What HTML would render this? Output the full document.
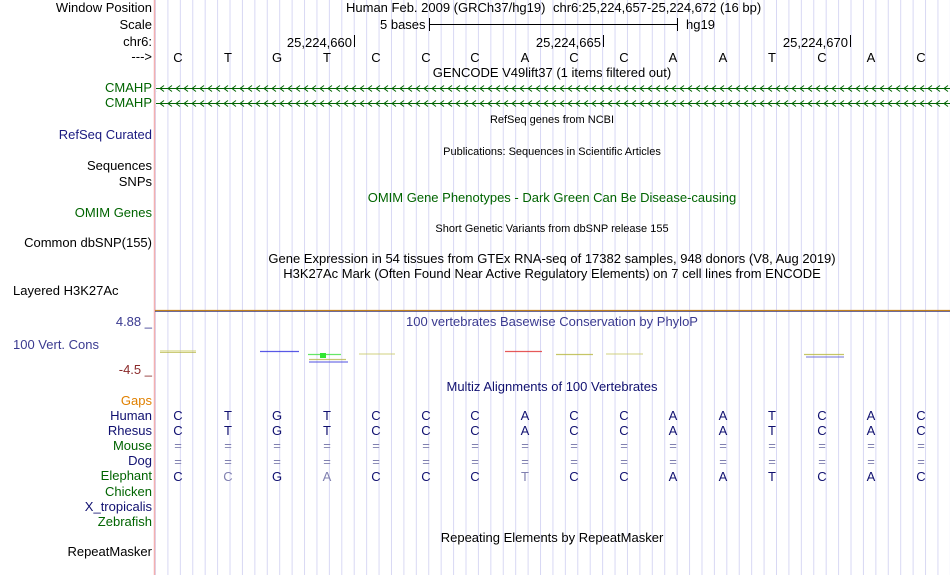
<!DOCTYPE html>
<html><head><meta charset="utf-8"><style>
html,body{margin:0;padding:0;background:#fff;}
svg{display:block;font-family:"Liberation Sans",sans-serif;}
</style></head><body>
<svg width="950" height="575" viewBox="0 0 950 575" xmlns="http://www.w3.org/2000/svg">
<defs>
<pattern id="grid" x="155" y="0" width="12.42" height="575" patternUnits="userSpaceOnUse">
<line x1="0.5" y1="0" x2="0.5" y2="575" stroke="#d8d8f4" stroke-width="1"/>
</pattern>
<pattern id="chev" x="158" y="84" width="8" height="15" patternUnits="userSpaceOnUse">
<polyline points="6,1.5 2,4.5 6,7.5" fill="none" stroke="#006400" stroke-width="1"/>
</pattern>
</defs>
<rect x="155" y="0" width="795" height="575" fill="url(#grid)"/>
<line x1="154.5" y1="0" x2="154.5" y2="575" stroke="#f4b0b0" stroke-width="1.5"/>

<g font-size="13" text-anchor="end" fill="#000">
<text x="152" y="12">Window Position</text>
<text x="152" y="29">Scale</text>
<text x="152" y="46">chr6:</text>
<text x="152" y="61">---&gt;</text>
<text x="152" y="92" fill="#006400">CMAHP</text>
<text x="152" y="107" fill="#006400">CMAHP</text>
<text x="152" y="139" fill="#1a1a80">RefSeq Curated</text>
<text x="152" y="170">Sequences</text>
<text x="152" y="186">SNPs</text>
<text x="152" y="217" fill="#006400">OMIM Genes</text>
<text x="152" y="247">Common dbSNP(155)</text>
<text x="152" y="326" fill="#3a3a90">4.88 _</text>
<text x="152" y="374" fill="#8b2a2a">-4.5 _</text>
<text x="152" y="405" fill="#e08000">Gaps</text>
<text x="152" y="420" fill="#101070">Human</text>
<text x="152" y="435" fill="#101070">Rhesus</text>
<text x="152" y="450" fill="#006400">Mouse</text>
<text x="152" y="465" fill="#101070">Dog</text>
<text x="152" y="480" fill="#006400">Elephant</text>
<text x="152" y="496" fill="#006400">Chicken</text>
<text x="152" y="511" fill="#101070">X_tropicalis</text>
<text x="152" y="526" fill="#006400">Zebrafish</text>
<text x="152" y="556">RepeatMasker</text>
</g>
<text x="13" y="295" font-size="13">Layered H3K27Ac</text>
<text x="13" y="349" font-size="13" fill="#3a3a90">100 Vert. Cons</text>

<g font-size="13">
<text x="346" y="12">Human Feb. 2009 (GRCh37/hg19)</text>
<text x="553" y="12">chr6:25,224,657-25,224,672 (16 bp)</text>
<text x="380" y="29">5 bases</text>
<line x1="429" y1="24.5" x2="677" y2="24.5" stroke="#000"/>
<line x1="429.5" y1="18" x2="429.5" y2="31" stroke="#000"/>
<line x1="677.5" y1="18" x2="677.5" y2="31" stroke="#000"/>
<text x="686" y="29">hg19</text>
<text x="352" y="47" text-anchor="end">25,224,660</text>
<line x1="354.5" y1="35" x2="354.5" y2="47" stroke="#000"/>
<text x="601" y="47" text-anchor="end">25,224,665</text>
<line x1="603.5" y1="35" x2="603.5" y2="47" stroke="#000"/>
<text x="848" y="47" text-anchor="end">25,224,670</text>
<line x1="850.5" y1="35" x2="850.5" y2="47" stroke="#000"/>
</g>
<g font-size="13" text-anchor="middle">
<text x="178" y="62">C</text><text x="228" y="62">T</text><text x="277" y="62">G</text><text x="327" y="62">T</text>
<text x="376" y="62">C</text><text x="426" y="62">C</text><text x="475" y="62">C</text><text x="525" y="62">A</text>
<text x="574" y="62">C</text><text x="624" y="62">C</text><text x="673" y="62">A</text><text x="723" y="62">A</text>
<text x="772" y="62">T</text><text x="822" y="62">C</text><text x="871" y="62">A</text><text x="921" y="62">C</text>
<text x="552" y="77">GENCODE V49lift37 (1 items filtered out)</text>
</g>
<line x1="156" y1="88.5" x2="950" y2="88.5" stroke="#006400"/>
<rect x="156" y="84" width="794" height="10" fill="url(#chev)"/>
<line x1="156" y1="103.5" x2="950" y2="103.5" stroke="#006400"/>
<rect x="156" y="99" width="794" height="10" fill="url(#chev)"/>
<g text-anchor="middle">
<text x="552" y="123" font-size="11">RefSeq genes from NCBI</text>
<text x="552" y="155" font-size="11">Publications: Sequences in Scientific Articles</text>
<text x="552" y="202" font-size="13" fill="#006400">OMIM Gene Phenotypes - Dark Green Can Be Disease-causing</text>
<text x="552" y="232" font-size="11">Short Genetic Variants from dbSNP release 155</text>
<text x="552" y="263" font-size="13">Gene Expression in 54 tissues from GTEx RNA-seq of 17382 samples, 948 donors (V8, Aug 2019)</text>
<text x="552" y="278" font-size="13">H3K27Ac Mark (Often Found Near Active Regulatory Elements) on 7 cell lines from ENCODE</text>
</g>
<line x1="155" y1="310.5" x2="950" y2="310.5" stroke="#c08020" stroke-width="1.2"/>
<line x1="155" y1="311.5" x2="950" y2="311.5" stroke="#404080" stroke-width="0.8"/>
<text x="552" y="326" font-size="13" text-anchor="middle" fill="#3a3a90">100 vertebrates Basewise Conservation by PhyloP</text>
<g stroke-width="1.2" opacity="0.8">
<line x1="160" y1="351" x2="196" y2="351" stroke="#d0d070"/>
<line x1="160" y1="352.5" x2="196" y2="352.5" stroke="#a8a820" stroke-width="0.8"/>
<line x1="260" y1="351.5" x2="299" y2="351.5" stroke="#3030e0"/>
<line x1="308" y1="354.5" x2="341" y2="354.5" stroke="#40e040"/>
<rect x="320" y="353" width="6" height="5" fill="#00e000" stroke="none"/>
<line x1="309" y1="359.5" x2="346" y2="359.5" stroke="#b8b850"/>
<line x1="309" y1="362" x2="348" y2="362" stroke="#5050e0"/>
<line x1="359" y1="354" x2="395" y2="354" stroke="#c8c860" stroke-width="1"/>
<line x1="505" y1="351.5" x2="542" y2="351.5" stroke="#e03030"/>
<line x1="556" y1="354.5" x2="593" y2="354.5" stroke="#b8b840"/>
<line x1="606" y1="354" x2="643" y2="354" stroke="#c8c860" stroke-width="1"/>
<line x1="804" y1="354.5" x2="844" y2="354.5" stroke="#b8b840"/>
<line x1="806" y1="357" x2="844" y2="357" stroke="#5050d0" stroke-width="1"/>
</g>
<text x="552" y="391" font-size="13" text-anchor="middle" fill="#101070">Multiz Alignments of 100 Vertebrates</text>
<g font-size="13" text-anchor="middle" fill="#101070">
<text x="178" y="420">C</text><text x="228" y="420">T</text><text x="277" y="420">G</text><text x="327" y="420">T</text>
<text x="376" y="420">C</text><text x="426" y="420">C</text><text x="475" y="420">C</text><text x="525" y="420">A</text>
<text x="574" y="420">C</text><text x="624" y="420">C</text><text x="673" y="420">A</text><text x="723" y="420">A</text>
<text x="772" y="420">T</text><text x="822" y="420">C</text><text x="871" y="420">A</text><text x="921" y="420">C</text>
<text x="178" y="435">C</text><text x="228" y="435">T</text><text x="277" y="435">G</text><text x="327" y="435">T</text>
<text x="376" y="435">C</text><text x="426" y="435">C</text><text x="475" y="435">C</text><text x="525" y="435">A</text>
<text x="574" y="435">C</text><text x="624" y="435">C</text><text x="673" y="435">A</text><text x="723" y="435">A</text>
<text x="772" y="435">T</text><text x="822" y="435">C</text><text x="871" y="435">A</text><text x="921" y="435">C</text>
</g>
<g font-size="13" text-anchor="middle" fill="#8080b0">
<text x="178" y="450">=</text><text x="228" y="450">=</text><text x="277" y="450">=</text><text x="327" y="450">=</text>
<text x="376" y="450">=</text><text x="426" y="450">=</text><text x="475" y="450">=</text><text x="525" y="450">=</text>
<text x="574" y="450">=</text><text x="624" y="450">=</text><text x="673" y="450">=</text><text x="723" y="450">=</text>
<text x="772" y="450">=</text><text x="822" y="450">=</text><text x="871" y="450">=</text><text x="921" y="450">=</text>
<text x="178" y="466">=</text><text x="228" y="466">=</text><text x="277" y="466">=</text><text x="327" y="466">=</text>
<text x="376" y="466">=</text><text x="426" y="466">=</text><text x="475" y="466">=</text><text x="525" y="466">=</text>
<text x="574" y="466">=</text><text x="624" y="466">=</text><text x="673" y="466">=</text><text x="723" y="466">=</text>
<text x="772" y="466">=</text><text x="822" y="466">=</text><text x="871" y="466">=</text><text x="921" y="466">=</text>
</g>
<g font-size="13" text-anchor="middle" fill="#101070">
<text x="178" y="481">C</text><text x="228" y="481" fill="#8080b0">C</text><text x="277" y="481">G</text><text x="327" y="481" fill="#8080b0">A</text>
<text x="376" y="481">C</text><text x="426" y="481">C</text><text x="475" y="481">C</text><text x="525" y="481" fill="#8080b0">T</text>
<text x="574" y="481">C</text><text x="624" y="481">C</text><text x="673" y="481">A</text><text x="723" y="481">A</text>
<text x="772" y="481">T</text><text x="822" y="481">C</text><text x="871" y="481">A</text><text x="921" y="481">C</text>
</g>
<text x="552" y="542" font-size="13" text-anchor="middle">Repeating Elements by RepeatMasker</text>
</svg>
</body></html>
